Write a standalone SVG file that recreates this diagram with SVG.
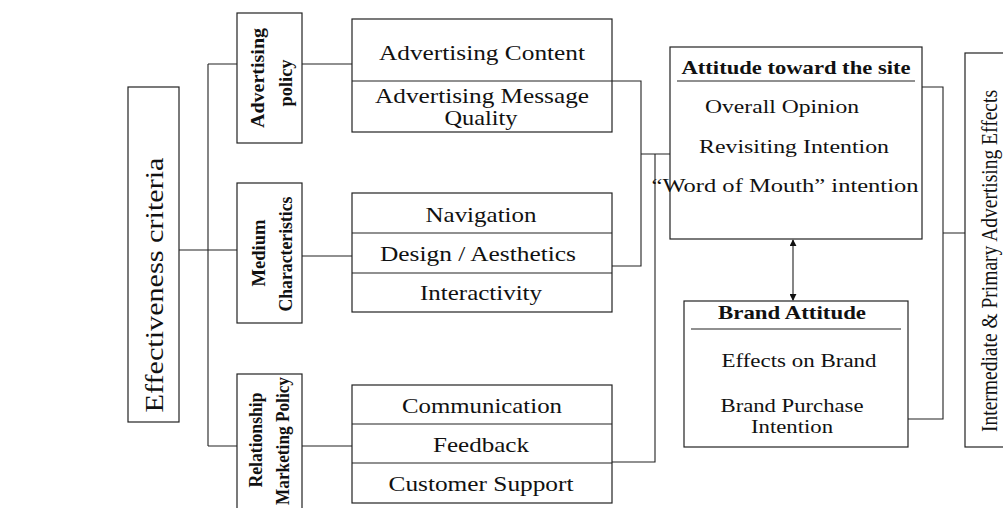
<svg xmlns="http://www.w3.org/2000/svg" width="1003" height="508" viewBox="0 0 1003 508">
<defs>
<style>
.box{fill:#fff;stroke:#222;stroke-width:1.2}
.ln{fill:none;stroke:#222;stroke-width:1.1}
.t{font-family:"Liberation Serif","Times New Roman",serif;fill:#111;text-anchor:middle}
.b{font-weight:bold}
.m{font-size:21px}
.r{font-size:19px}
</style>
<marker id="ah" viewBox="0 0 8 8" refX="7" refY="4" markerWidth="7" markerHeight="7" orient="auto-start-reverse" markerUnits="userSpaceOnUse">
<path d="M0,0 L8,4 L0,8 z" fill="#111"/>
</marker>
</defs>
<rect width="1003" height="508" fill="#fff"/>

<g id="connectors">
<path class="ln" d="M179,250 H208 M208,64 V446 M208,64 H237 M208,250 H237 M208,446 H237"/>
<path class="ln" d="M302,64 H352 M302,256 H352 M302,446 H352"/>
<path class="ln" d="M612,81 H641 V266 H612 M641,154 H670 M655,154 V462 H612"/>
<path class="ln" d="M922,87 H943 V419 H908 M943,233 H965"/>
<line class="ln" x1="793" y1="240" x2="793" y2="300" marker-start="url(#ah)" marker-end="url(#ah)"/>
</g>

<g id="effectiveness">
<rect class="box" x="128" y="87" width="51" height="335"/>
<text class="t" font-size="26" textLength="255" lengthAdjust="spacingAndGlyphs" transform="translate(163,285) rotate(-90)">Effectiveness criteria</text>
</g>

<g id="advertising-policy">
<rect class="box" x="237" y="13" width="65" height="130"/>
<text class="t b" font-size="18" textLength="100" lengthAdjust="spacingAndGlyphs" transform="translate(264,78) rotate(-90)">Advertising</text>
<text class="t b" font-size="18" textLength="47" lengthAdjust="spacingAndGlyphs" transform="translate(292,83) rotate(-90)">policy</text>
</g>

<g id="medium-characteristics">
<rect class="box" x="237" y="183" width="65" height="140"/>
<text class="t b" font-size="18" textLength="67" lengthAdjust="spacingAndGlyphs" transform="translate(265,253) rotate(-90)">Medium</text>
<text class="t b" font-size="18" textLength="115" lengthAdjust="spacingAndGlyphs" transform="translate(292,254) rotate(-90)">Characteristics</text>
</g>

<g id="relationship-marketing">
<rect class="box" x="237" y="374" width="65" height="150"/>
<text class="t b" font-size="18" textLength="95" lengthAdjust="spacingAndGlyphs" transform="translate(262,440) rotate(-90)">Relationship</text>
<text class="t b" font-size="18" textLength="128" lengthAdjust="spacingAndGlyphs" transform="translate(289,441) rotate(-90)">Marketing Policy</text>
</g>

<g id="advertising-items">
<rect class="box" x="352" y="19" width="260" height="113"/>
<line class="ln" x1="352" y1="81" x2="612" y2="81"/>
<text class="t m" x="482" y="60" textLength="206" lengthAdjust="spacingAndGlyphs">Advertising Content</text>
<text class="t m" x="482" y="103" textLength="214" lengthAdjust="spacingAndGlyphs">Advertising Message</text>
<text class="t m" x="481" y="125" textLength="73" lengthAdjust="spacingAndGlyphs">Quality</text>
</g>

<g id="medium-items">
<rect class="box" x="352" y="193" width="260" height="119"/>
<line class="ln" x1="352" y1="233" x2="612" y2="233"/>
<line class="ln" x1="352" y1="273" x2="612" y2="273"/>
<text class="t m" x="481" y="222" textLength="111" lengthAdjust="spacingAndGlyphs">Navigation</text>
<text class="t m" x="478" y="261" textLength="196" lengthAdjust="spacingAndGlyphs">Design / Aesthetics</text>
<text class="t m" x="481" y="300" textLength="122" lengthAdjust="spacingAndGlyphs">Interactivity</text>
</g>

<g id="relationship-items">
<rect class="box" x="352" y="385" width="260" height="118"/>
<line class="ln" x1="352" y1="424" x2="612" y2="424"/>
<line class="ln" x1="352" y1="463" x2="612" y2="463"/>
<text class="t m" x="482" y="413" textLength="160" lengthAdjust="spacingAndGlyphs">Communication</text>
<text class="t m" x="481" y="452" textLength="96" lengthAdjust="spacingAndGlyphs">Feedback</text>
<text class="t m" x="481" y="491" textLength="185" lengthAdjust="spacingAndGlyphs">Customer Support</text>
</g>

<g id="attitude-site">
<rect class="box" x="670" y="47" width="252" height="192"/>
<text class="t b r" x="796" y="74" textLength="229" lengthAdjust="spacingAndGlyphs">Attitude toward the site</text>
<line class="ln" x1="677" y1="81" x2="915" y2="81"/>
<text class="t r" x="782" y="113" textLength="154" lengthAdjust="spacingAndGlyphs">Overall Opinion</text>
<text class="t r" x="794" y="153" textLength="190" lengthAdjust="spacingAndGlyphs">Revisiting Intention</text>
<text class="t r" x="785" y="192" textLength="267" lengthAdjust="spacingAndGlyphs">“Word of Mouth” intention</text>
</g>

<g id="brand-attitude">
<rect class="box" x="684" y="301" width="224" height="146"/>
<text class="t b r" x="792" y="319" textLength="148" lengthAdjust="spacingAndGlyphs">Brand Attitude</text>
<line class="ln" x1="691" y1="329" x2="901" y2="329"/>
<text class="t r" x="799" y="367" textLength="155" lengthAdjust="spacingAndGlyphs">Effects on Brand</text>
<text class="t r" x="792" y="412" textLength="143" lengthAdjust="spacingAndGlyphs">Brand Purchase</text>
<text class="t r" x="792" y="433" textLength="82" lengthAdjust="spacingAndGlyphs">Intention</text>
</g>

<g id="effects">
<rect class="box" x="965" y="53" width="50" height="394"/>
<text class="t" font-size="23" textLength="342" lengthAdjust="spacingAndGlyphs" transform="translate(997,261) rotate(-90)">Intermediate &amp; Primary Advertising Effects</text>
</g>
</svg>
